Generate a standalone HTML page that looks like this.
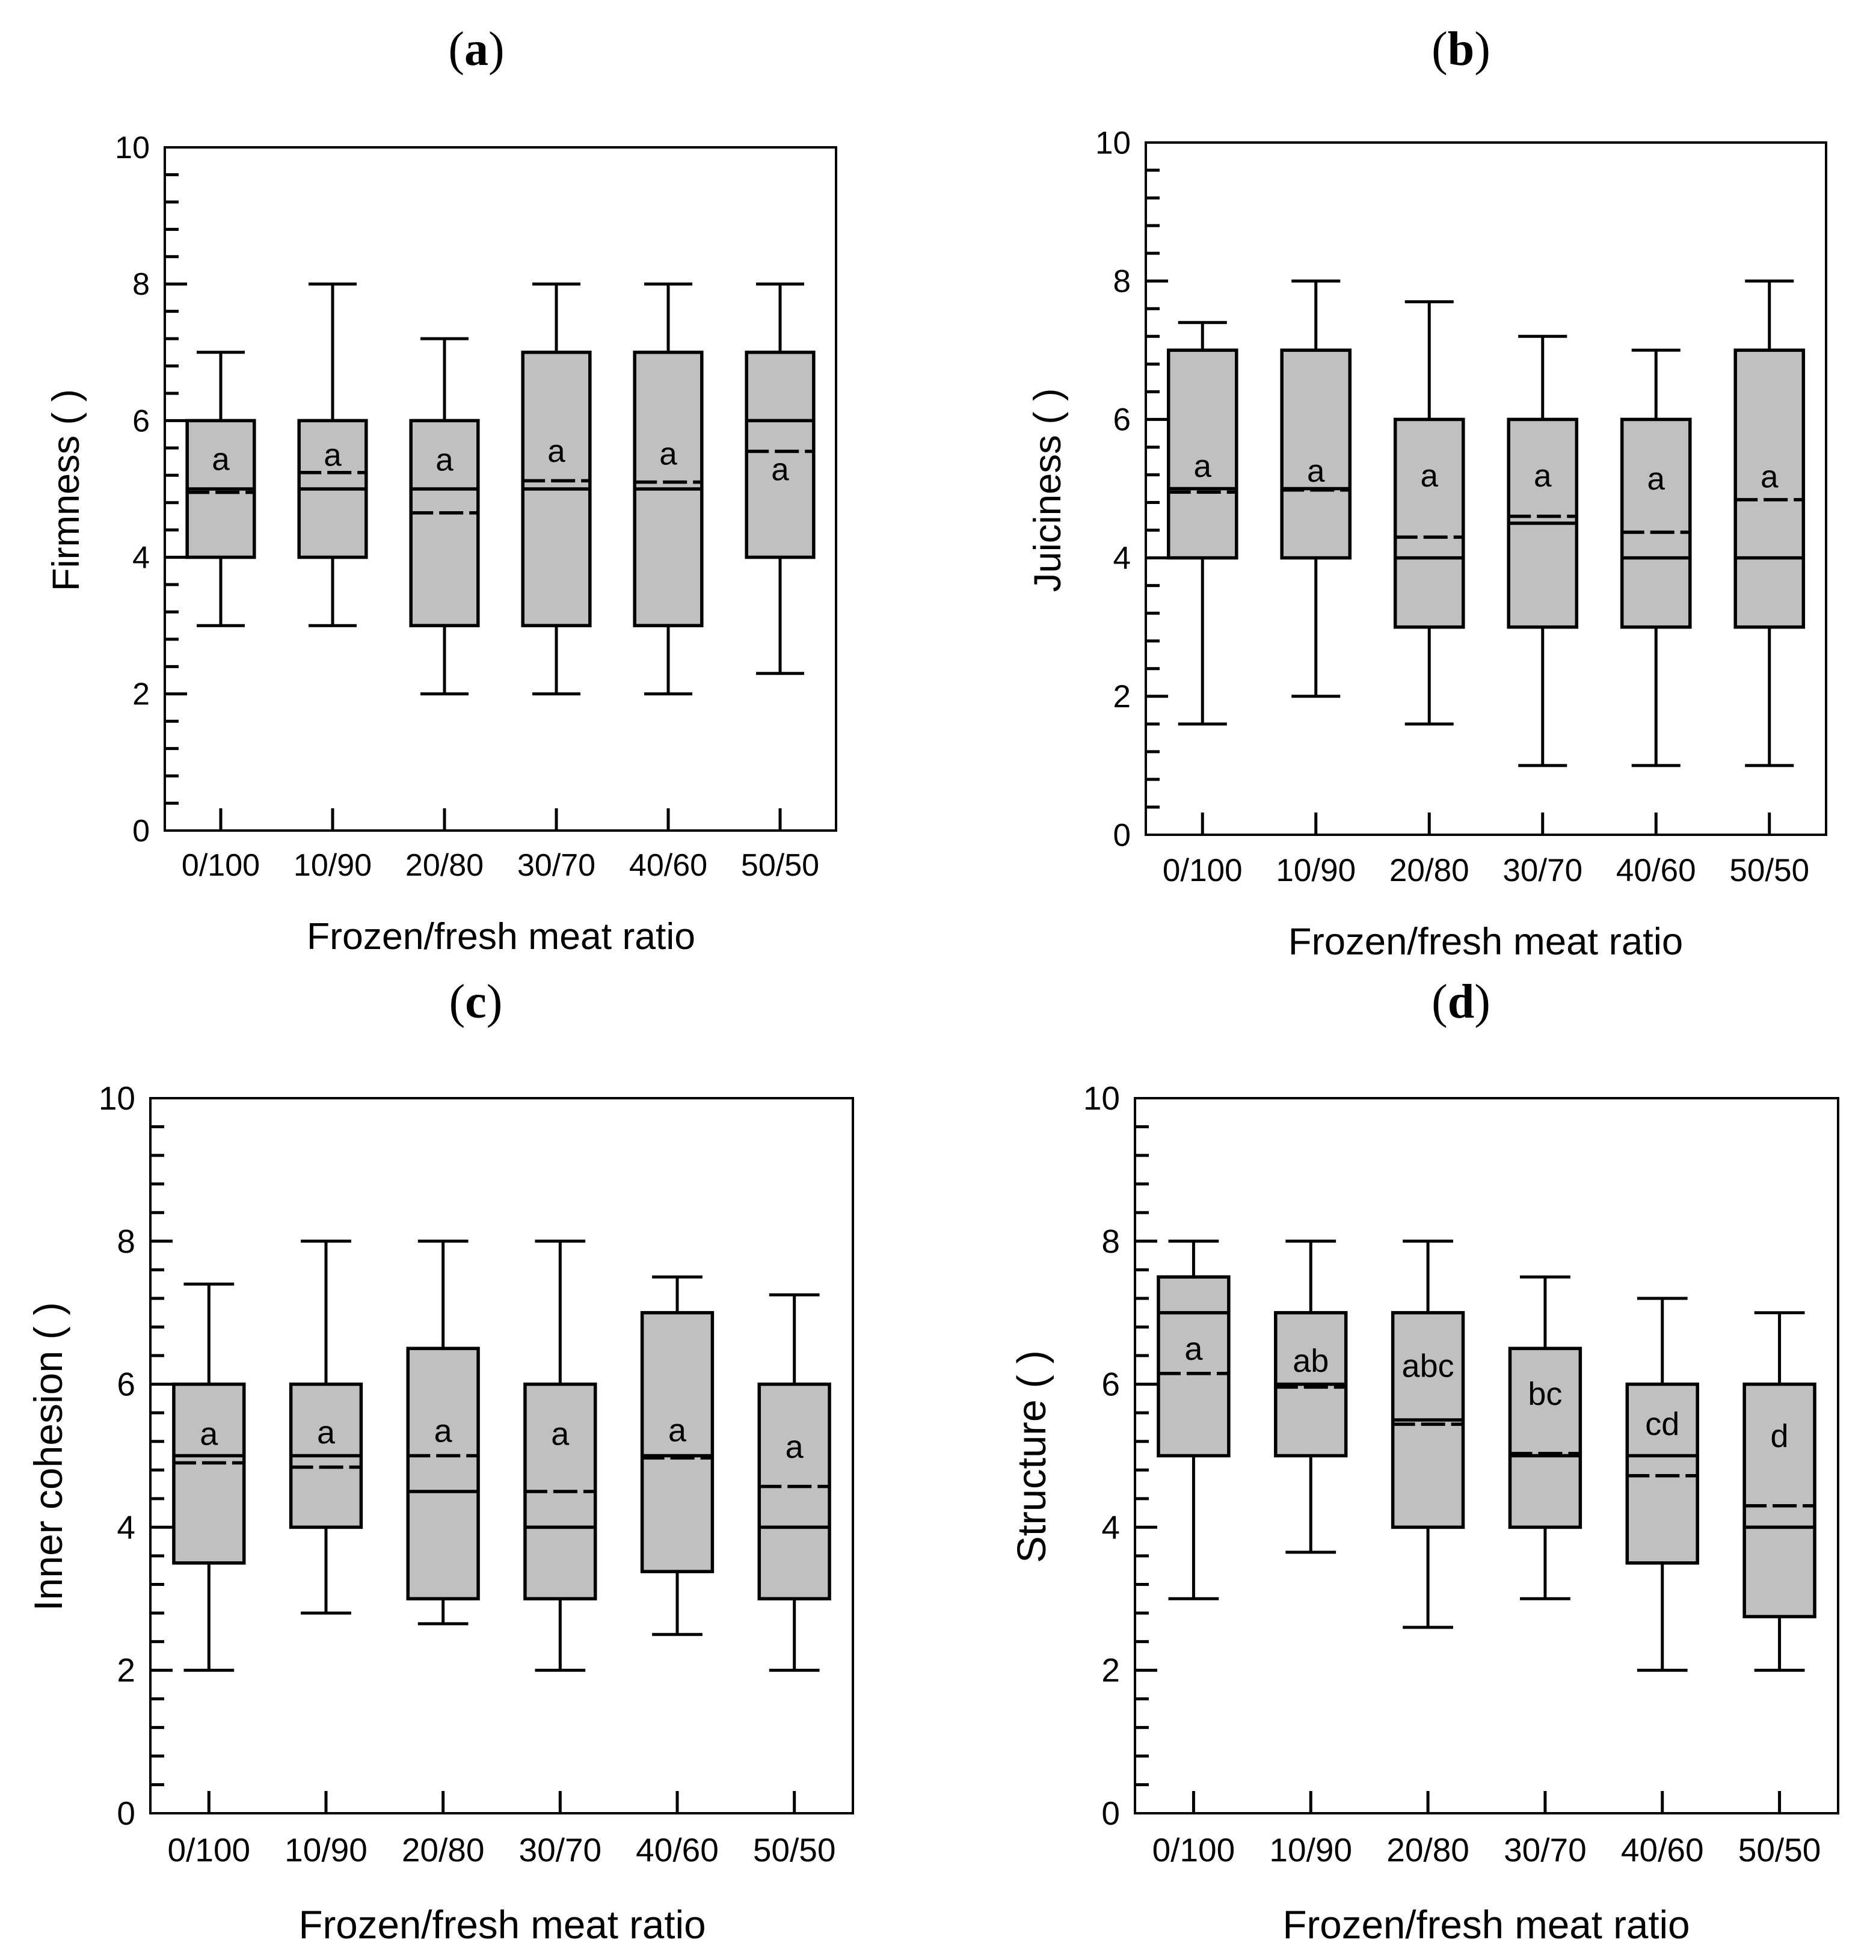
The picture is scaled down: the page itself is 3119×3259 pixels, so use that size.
<!DOCTYPE html>
<html lang="en">
<head>
<meta charset="utf-8">
<title>Sensory scores by frozen/fresh meat ratio</title>
<style>
  html, body { margin: 0; padding: 0; background: #fff; }
  svg { display: block; }
  text { font-family: "Liberation Sans", Arial, sans-serif; fill: #000; }
  .panel-title { font-family: "Liberation Serif", "Times New Roman", serif; font-size: 80px; text-anchor: middle; }
  .panel-title tspan { font-weight: bold; }
</style>
</head>
<body>
<svg id="figure" xmlns="http://www.w3.org/2000/svg" width="3119" height="3259" viewBox="0 0 3119 3259">
  <rect x="0" y="0" width="3119" height="3259" fill="#fff"/>
</svg>
<script>
const categories = ['0/100', '10/90', '20/80', '30/70', '40/60', '50/50'];
const yTickLabels = [0, 2, 4, 6, 8, 10];
const yMinorTicks = [0.4, 0.8, 1.2, 1.6, 2.4, 2.8, 3.2, 3.6, 4.4, 4.8, 5.2, 5.6, 6.4, 6.8, 7.2, 7.6, 8.4, 8.8, 9.2, 9.6];

const firmnessHigh = [7, 8, 7.2, 8, 8, 8];
const firmnessQ3 = [6, 6, 6, 7, 7, 7];
const firmnessMedian = [5, 5, 5, 5, 5, 6];
const firmnessMean = [4.95, 5.24, 4.65, 5.12, 5.1, 5.55];
const firmnessQ1 = [4, 4, 3, 3, 3, 4];
const firmnessLow = [3, 3, 2, 2, 2, 2.3];
const firmnessLetters = ['a', 'a', 'a', 'a', 'a', 'a'];
const firmnessLetterAt = [5.4, 5.46, 5.39, 5.52, 5.48, 5.25];

const juicinessHigh = [7.4, 8, 7.7, 7.2, 7, 8];
const juicinessQ3 = [7, 7, 6, 6, 6, 7];
const juicinessMedian = [5, 5, 4, 4.5, 4, 4];
const juicinessMean = [4.95, 4.98, 4.3, 4.6, 4.37, 4.84];
const juicinessQ1 = [4, 4, 3, 3, 3, 3];
const juicinessLow = [1.6, 2, 1.6, 1, 1, 1];
const juicinessLetters = ['a', 'a', 'a', 'a', 'a', 'a'];
const juicinessLetterAt = [5.29, 5.22, 5.15, 5.15, 5.11, 5.14];

const cohesionHigh = [7.4, 8, 8, 8, 7.5, 7.25];
const cohesionQ3 = [6, 6, 6.5, 6, 7, 6];
const cohesionMedian = [5, 5, 4.5, 4, 5, 4];
const cohesionMean = [4.9, 4.84, 5, 4.5, 4.97, 4.57];
const cohesionQ1 = [3.5, 4, 3, 3, 3.38, 3];
const cohesionLow = [2, 2.8, 2.65, 2, 2.5, 2];
const cohesionLetters = ['a', 'a', 'a', 'a', 'a', 'a'];
const cohesionLetterAt = [5.27, 5.29, 5.31, 5.27, 5.32, 5.09];

const structureHigh = [8, 8, 8, 7.5, 7.2, 7];
const structureQ3 = [7.5, 7, 7, 6.5, 6, 6];
const structureMedian = [7, 6, 5.5, 5, 5, 4];
const structureMean = [6.15, 5.96, 5.44, 5.03, 4.72, 4.3];
const structureQ1 = [5, 5, 4, 4, 3.5, 2.75];
const structureLow = [3, 3.65, 2.6, 3, 2, 2];
const structureLetters = ['a', 'ab', 'abc', 'bc', 'cd', 'd'];
const structureLetterAt = [6.46, 6.29, 6.22, 5.83, 5.41, 5.24];

const SVG_NS = 'http://www.w3.org/2000/svg';
const figure = document.getElementById('figure');

function makeLine(parent, x1, y1, x2, y2, width) {
  const el = document.createElementNS(SVG_NS, 'line');
  el.setAttribute('x1', x1);
  el.setAttribute('y1', y1);
  el.setAttribute('x2', x2);
  el.setAttribute('y2', y2);
  el.setAttribute('stroke', '#000');
  el.setAttribute('stroke-width', width);
  parent.appendChild(el);
  return el;
}

function makeText(parent, x, y, size, anchor, content) {
  const el = document.createElementNS(SVG_NS, 'text');
  el.setAttribute('x', x);
  el.setAttribute('y', y);
  el.setAttribute('font-size', size);
  el.setAttribute('text-anchor', anchor);
  el.textContent = content;
  parent.appendChild(el);
  return el;
}

function drawPanel(p) {
  const yScale = function (v) { return p.bottom - (v / 10) * (p.bottom - p.top); };
  const band = (p.right - p.left) / categories.length;
  const xScale = function (i) { return p.left + (i + 0.5) * band; };
  const boxHalf = band * 0.3;
  const capHalf = band * 0.215;

  const group = document.createElementNS(SVG_NS, 'g');
  
  
  figure.appendChild(group);

  const title = document.createElementNS(SVG_NS, 'text');
  title.setAttribute('class', 'panel-title');
  title.setAttribute('x', p.titleX);
  title.setAttribute('y', p.titleY);
  
  
  title.appendChild(document.createTextNode('('));
  const letter = document.createElementNS(SVG_NS, 'tspan');
  letter.textContent = p.id;
  title.appendChild(letter);
  title.appendChild(document.createTextNode(')'));
  group.appendChild(title);

  const frame = document.createElementNS(SVG_NS, 'rect');
  frame.setAttribute('x', p.left);
  frame.setAttribute('y', p.top);
  frame.setAttribute('width', p.right - p.left);
  frame.setAttribute('height', p.bottom - p.top);
  frame.setAttribute('fill', '#fff');
  frame.setAttribute('stroke', '#000');
  frame.setAttribute('stroke-width', 4);
  
  
  group.appendChild(frame);

  yMinorTicks.forEach(function (v) {
    const tick = makeLine(group, p.left, yScale(v), p.left + 23, yScale(v), 5);
    
    
  });

  yTickLabels.forEach(function (v) {
    if (v > yTickLabels[0] && v < yTickLabels[yTickLabels.length - 1]) {
      const tick = makeLine(group, p.left, yScale(v), p.left + 37, yScale(v), 5);
      
      
    }
    const label = makeText(group, p.left - 25, yScale(v) + p.tickSize * 0.345, p.tickSize, 'end', String(v));
    
    
  });

  categories.forEach(function (name, i) {
    const cx = xScale(i);
    const tick = makeLine(group, cx, p.bottom, cx, p.bottom - 37, 5);
    
    
    const label = makeText(group, cx, p.bottom + p.xLabelDrop, p.tickSize, 'middle', name);
    
    
  });

  categories.forEach(function (name, i) {
    const cx = xScale(i);
    const whiskerHigh = makeLine(group, cx, yScale(p.high[i]), cx, yScale(p.q3[i]), 5);
    
    
    const whiskerLow = makeLine(group, cx, yScale(p.low[i]), cx, yScale(p.q1[i]), 5);
    
    
    const capHigh = makeLine(group, cx - capHalf, yScale(p.high[i]), cx + capHalf, yScale(p.high[i]), 5);
    
    
    const capLow = makeLine(group, cx - capHalf, yScale(p.low[i]), cx + capHalf, yScale(p.low[i]), 5);
    
    

    const box = document.createElementNS(SVG_NS, 'rect');
    box.setAttribute('x', cx - boxHalf);
    box.setAttribute('y', yScale(p.q3[i]));
    box.setAttribute('width', boxHalf * 2);
    box.setAttribute('height', yScale(p.q1[i]) - yScale(p.q3[i]));
    box.setAttribute('fill', '#c0c0c0');
    box.setAttribute('stroke', '#000');
    box.setAttribute('stroke-width', 5.5);
    
    
    group.appendChild(box);

    const median = makeLine(group, cx - boxHalf, yScale(p.median[i]), cx + boxHalf, yScale(p.median[i]), 5.5);
    
    

    const mean = makeLine(group, cx - boxHalf, yScale(p.mean[i]), cx + boxHalf, yScale(p.mean[i]), 5.5);
    mean.setAttribute('stroke-dasharray', '40 10');
    mean.setAttribute('stroke-dashoffset', '3');
    
    

    const group_letter = makeText(group, cx, yScale(p.letterAt[i]) + 14, p.letterSize, 'middle', p.letters[i]);
    
    
  });

  const xTitle = makeText(group, p.xTitleX, p.xTitleY, p.titleSize, 'middle', 'Frozen/fresh meat ratio');
  
  

  const yTitle = makeText(group, 0, 0, p.yTitleSize, 'middle', p.yTitle);
  yTitle.setAttribute('transform', 'translate(' + p.yTitleX + ' ' + p.yTitleY + ') rotate(-90)');
  
  
}

drawPanel({
  id: 'a', yTitle: 'Firmness ( )',
  high: firmnessHigh, q3: firmnessQ3, median: firmnessMedian, mean: firmnessMean, q1: firmnessQ1, low: firmnessLow,
  letters: firmnessLetters, letterAt: firmnessLetterAt,
  left: 274, right: 1390, top: 245, bottom: 1381,
  titleX: 792, titleY: 108, tickSize: 52, letterSize: 53, titleSize: 62.5, yTitleSize: 63,
  xLabelDrop: 75, xTitleX: 833, xTitleY: 1578, yTitleX: 131, yTitleY: 815
});
drawPanel({
  id: 'b', yTitle: 'Juiciness ( )',
  high: juicinessHigh, q3: juicinessQ3, median: juicinessMedian, mean: juicinessMean, q1: juicinessQ1, low: juicinessLow,
  letters: juicinessLetters, letterAt: juicinessLetterAt,
  left: 1905, right: 3036, top: 237, bottom: 1388,
  titleX: 2429, titleY: 108, tickSize: 53, letterSize: 53, titleSize: 63.5, yTitleSize: 63.5,
  xLabelDrop: 77, xTitleX: 2470, xTitleY: 1587, yTitleX: 1763, yTitleY: 815
});
drawPanel({
  id: 'c', yTitle: 'Inner cohesion ( )',
  high: cohesionHigh, q3: cohesionQ3, median: cohesionMedian, mean: cohesionMean, q1: cohesionQ1, low: cohesionLow,
  letters: cohesionLetters, letterAt: cohesionLetterAt,
  left: 250, right: 1418, top: 1826, bottom: 3015,
  titleX: 791, titleY: 1692, tickSize: 55, letterSize: 54, titleSize: 65.5, yTitleSize: 66,
  xLabelDrop: 80, xTitleX: 835, xTitleY: 3223, yTitleX: 103, yTitleY: 2422
});
drawPanel({
  id: 'd', yTitle: 'Structure ( )',
  high: structureHigh, q3: structureQ3, median: structureMedian, mean: structureMean, q1: structureQ1, low: structureLow,
  letters: structureLetters, letterAt: structureLetterAt,
  left: 1887, right: 3056, top: 1826, bottom: 3015,
  titleX: 2429, titleY: 1692, tickSize: 55, letterSize: 54, titleSize: 65.5, yTitleSize: 67,
  xLabelDrop: 80, xTitleX: 2471, xTitleY: 3223, yTitleX: 1738, yTitleY: 2422
});
</script>
</body>
</html>
